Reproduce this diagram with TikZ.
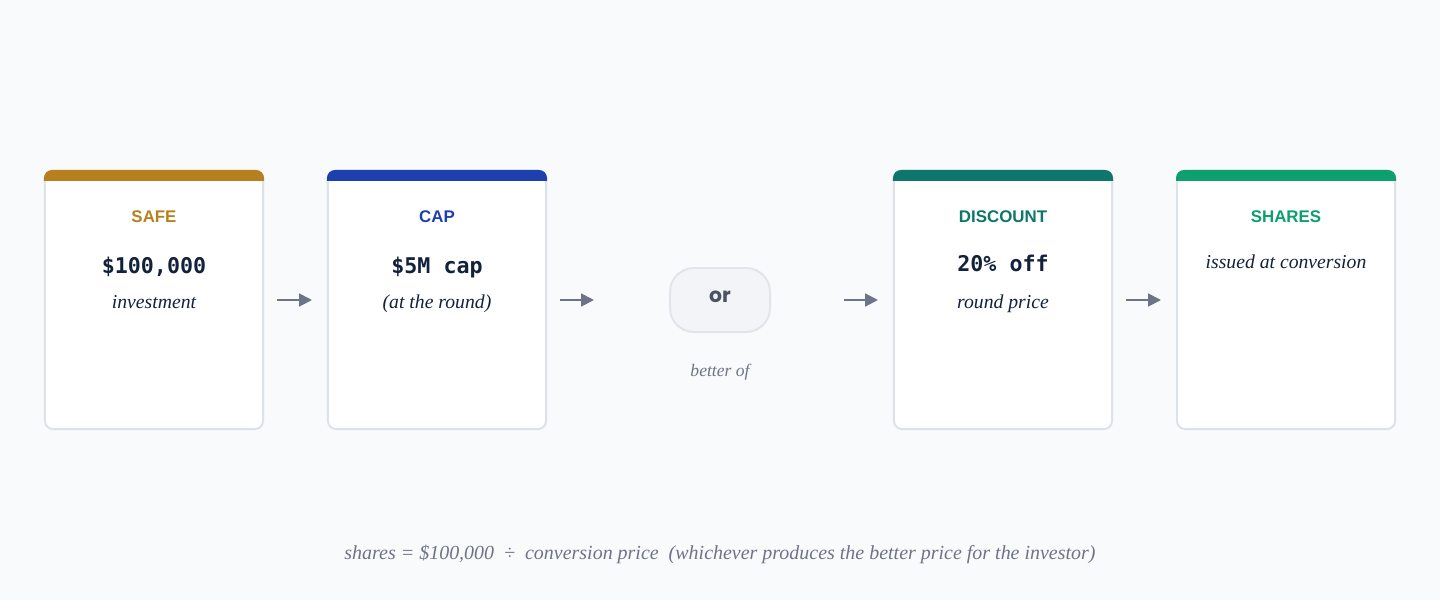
\documentclass[tikz,border=0pt]{standalone}
\usepackage{fontspec}
\setmainfont{Liberation Serif}
\newfontfamily\headfont{Liberation Sans}
\newfontfamily\monofont{DejaVu Sans Mono}
\newfontfamily\pillfont{Poppins}
\usetikzlibrary{arrows.meta}
\definecolor{bgcol}{HTML}{F9FAFC}
\definecolor{edgecol}{HTML}{DDE1E8}
\definecolor{safecol}{HTML}{B7801F}
\definecolor{capcol}{HTML}{1E40AF}
\definecolor{disccol}{HTML}{0F766E}
\definecolor{sharecol}{HTML}{0E9F6E}
\definecolor{inkcol}{HTML}{14213D}
\definecolor{arrowcol}{HTML}{6E7487}
\definecolor{pillfill}{HTML}{F3F4F7}
\definecolor{pilledge}{HTML}{E2E4EA}
\definecolor{pillink}{HTML}{4B5263}
\begin{document}
\begin{tikzpicture}[x=0.025cm,y=-0.025cm,
    card/.style={draw=edgecol,line width=1.4pt,fill=white,rounded corners=0.2cm,
      minimum width=5.45cm,minimum height=6.45cm,inner sep=0pt},
    title/.style={anchor=base,font=\headfont\bfseries\fontsize{12}{14}\selectfont},
    value/.style={anchor=base,text=inkcol,font=\monofont\bfseries\fontsize{15.4}{18}\selectfont},
    note/.style={anchor=base,text=inkcol,font=\itshape\fontsize{14}{17}\selectfont},
    flow/.style={draw=arrowcol,line width=1.4pt,-{Triangle[length=0.32cm,width=0.32cm]}}]
    \fill[bgcol] (0,0) rectangle (1440,600);
    \useasboundingbox (0,0) rectangle (1440,600);
    %% cards
    \node[card] (safe) at (154,300) {};
    \node[card] (cap) at (437,300) {};
    \node[card] (disc) at (1003,300) {};
    \node[card] (share) at (1286,300) {};
    %% coloured bars on top
    \foreach \c/\col in {safe/safecol,cap/capcol,disc/disccol,share/sharecol}{
        \begin{scope}
            \clip[rounded corners=0.2cm] (\c.south west) rectangle (\c.north east);
            \fill[\col] ([shift={(-2,-1)}]\c.north west) rectangle ([shift={(2,11)}]\c.north east);
        \end{scope}
    }
    %% texts in the cards
    \node[title,text=safecol] (safet) at (154,222) {SAFE};
    \node[value] (safev) at (154,273) {\$100,000};
    \node[note] (safen) at (154,308) {investment};
    \node[title,text=capcol] (capt) at (437,222) {CAP};
    \node[value] (capv) at (437,273) {\$5M cap};
    \node[note] (capn) at (437,308) {(at the round)};
    \node[title,text=disccol] (disct) at (1003,222) {DISCOUNT};
    \node[value] (discv) at (1003,271) {20\% off};
    \node[note] (discn) at (1003,308) {round price};
    \node[title,text=sharecol] (sharet) at (1286,222) {SHARES};
    \node[note] (sharen) at (1286,268) {issued at conversion};
    %% the or pill
    \node[draw=pilledge,line width=1.4pt,fill=pillfill,rounded corners=0.6cm,
        minimum width=2.5cm,minimum height=1.6cm] (pill) at (720,300) {};
    \node[anchor=base,text=pillink,font=\pillfont\bfseries\fontsize{14.5}{16}\selectfont] (ort) at (720,302) {or};
    \node[anchor=base,text=arrowcol,font=\itshape\fontsize{12.5}{15}\selectfont] (better) at (720,376) {better of};
    %% arrows
    \draw[flow,shorten <=0.325cm,shorten >=0.375cm] (safe) -- (cap);
    \draw[flow,shorten <=0.325cm,shorten >=1.875cm] (cap.east) -- (pill.west);
    \draw[flow,shorten <=1.825cm,shorten >=0.375cm] (pill.east) -- (disc.west);
    \draw[flow,shorten <=0.325cm,shorten >=0.375cm] (disc) -- (share);
    %% formula
    \node[anchor=base,text=arrowcol,font=\itshape\fontsize{14.2}{17}\selectfont] (formula) at (720,559)
        {shares = \$100,000 \ ÷ \ conversion price \ (whichever produces the better price for the investor)};
\end{tikzpicture}
\end{document}
